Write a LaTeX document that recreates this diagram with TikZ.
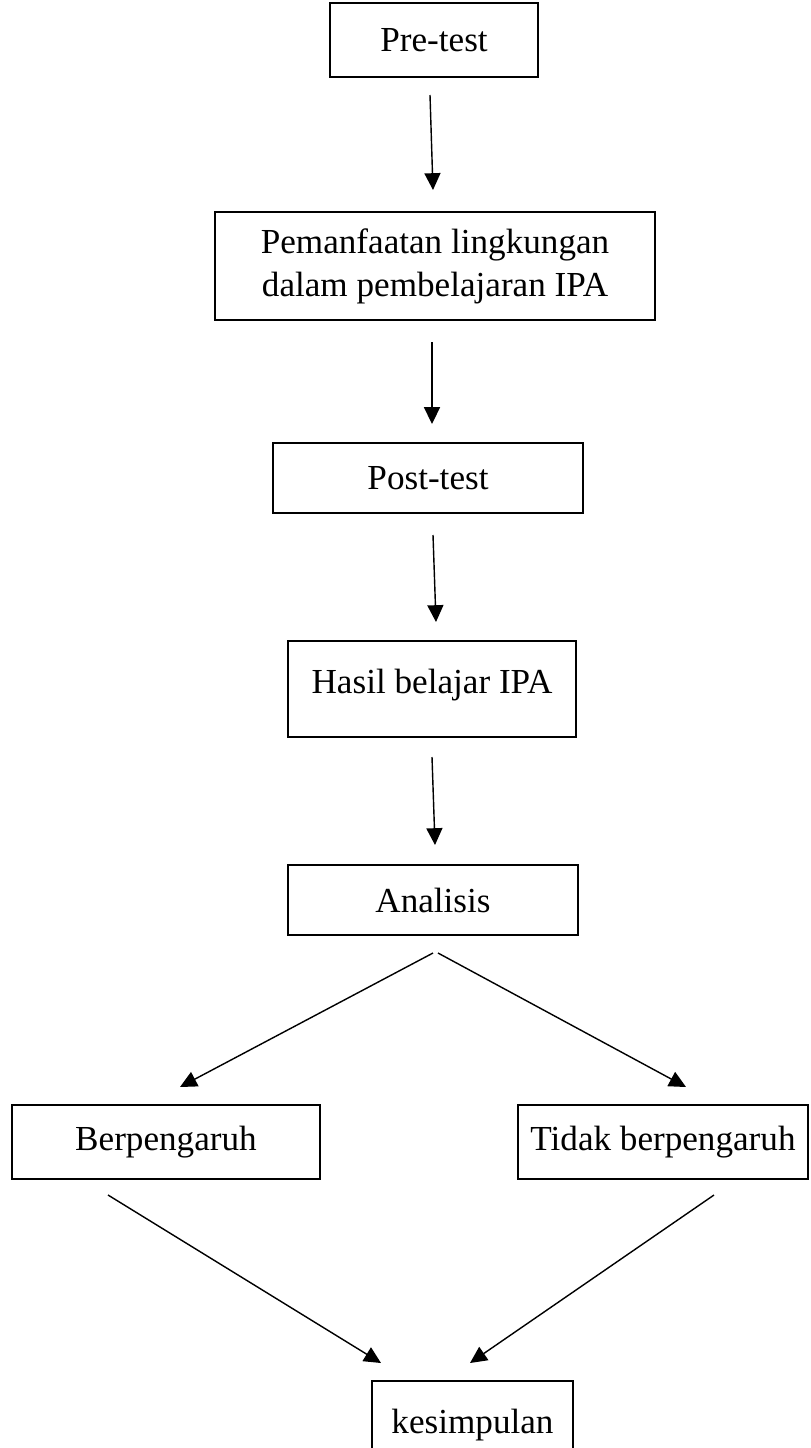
\documentclass[tikz,border=0pt]{standalone}
\usepackage{fontspec}
\setmainfont{Liberation Serif}
\usetikzlibrary{arrows.meta}

\begin{document}
\begin{tikzpicture}[
  kotak/.style={draw, line width=1.1pt, align=center, inner sep=0pt, font=\fontsize{25}{30.6}\selectfont},
  panah/.style={line width=1pt, -{Triangle[length=0.42cm,width=0.4cm]}}
]
\useasboundingbox (0,0) rectangle (20.275,-36.2);

\node[kotak, minimum width=5.2cm, minimum height=1.85cm] (pre) at (10.85,-1.0) {Pre-test};
\node[kotak, minimum width=11cm, minimum height=2.7cm] (manfaat) at (10.875,-6.65) {Pemanfaatan lingkungan\\dalam pembelajaran IPA};
\node[kotak, minimum width=7.75cm, minimum height=1.75cm] (post) at (10.7,-11.95) {Post-test};
\node[kotak, minimum width=7.2cm, minimum height=2.4cm, text depth=0.4cm] (hasil) at (10.8,-17.225) {Hasil belajar IPA};
\node[kotak, minimum width=7.25cm, minimum height=1.75cm] (analisis) at (10.825,-22.5) {Analisis};
\node[kotak, minimum width=7.7cm, minimum height=1.85cm] (ya) at (4.15,-28.55) {Berpengaruh};
\node[kotak, minimum width=7.25cm, minimum height=1.85cm] (tidak) at (16.575,-28.55) {Tidak berpengaruh};
\node[kotak, minimum width=5.025cm, minimum height=2.2cm] (simpul) at (11.8125,-35.625) {kesimpulan};

\coordinate (a1) at (10.75,-2.375);
\coordinate (b1) at (10.825,-4.75);
\coordinate (a2) at (10.8,-8.55);
\coordinate (b2) at (10.8,-10.6);
\coordinate (a3) at (10.825,-13.375);
\coordinate (b3) at (10.9,-15.55);
\coordinate (a4) at (10.8,-18.925);
\coordinate (b4) at (10.875,-21.125);
\coordinate (kiri0) at (10.825,-23.825);
\coordinate (kiri1) at (4.5,-27.175);
\coordinate (kanan0) at (10.95,-23.825);
\coordinate (kanan1) at (17.15,-27.175);
\coordinate (ya0) at (2.7,-29.875);
\coordinate (ya1) at (9.525,-34.075);
\coordinate (tidak0) at (17.85,-29.875);
\coordinate (tidak1) at (11.75,-34.075);

\draw[panah] (a1) -- (b1);
\draw[panah] (a2) -- (b2);
\draw[panah] (a3) -- (b3);
\draw[panah] (a4) -- (b4);
\draw[panah] (kiri0) -- (kiri1);
\draw[panah] (kanan0) -- (kanan1);
\draw[panah] (ya0) -- (ya1);
\draw[panah] (tidak0) -- (tidak1);
\end{tikzpicture}
\end{document}
